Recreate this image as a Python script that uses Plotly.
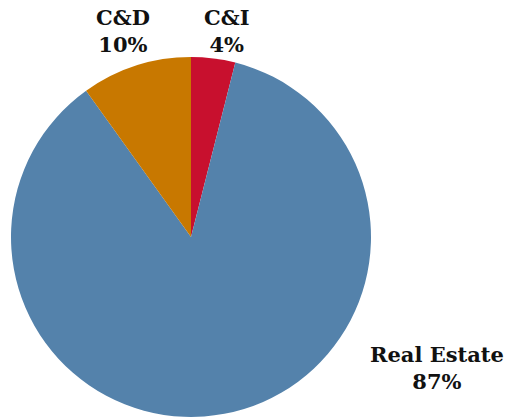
import plotly.graph_objects as go

# Loan portfolio composition
segments = ["C&I", "Real Estate", "C&D"]
shares = [4, 87, 10]
colors = ["#C8102E", "#5482AB", "#C87800"]

# label anchor positions (paper coords) for each segment's caption
label_x = [227 / 506, 437 / 506, 123 / 506]
label_y = [1 - 31 / 417, 1 - 368 / 417, 1 - 31 / 417]

fig = go.Figure(
    go.Pie(
        labels=segments,
        values=shares,
        marker=dict(colors=colors, line=dict(width=0)),
        sort=False,
        direction="clockwise",
        rotation=0,
        textinfo="none",
        hoverinfo="label+percent",
        showlegend=False,
        domain=dict(x=[11 / 506, 371 / 506], y=[0, 360 / 417]),
    )
)

for name, val, x, y in zip(segments, shares, label_x, label_y):
    fig.add_annotation(
        x=x, y=y, xref="paper", yref="paper",
        text=f"<b>{name}<br>{val}%</b>",
        showarrow=False, xanchor="center", yanchor="middle",
        font=dict(family="DejaVu Serif", size=21, color="#111111"),
    )

fig.update_layout(
    width=506, height=417,
    margin=dict(l=0, r=0, t=0, b=0),
    paper_bgcolor="white", plot_bgcolor="white",
)

fig.write_html("out.html")
